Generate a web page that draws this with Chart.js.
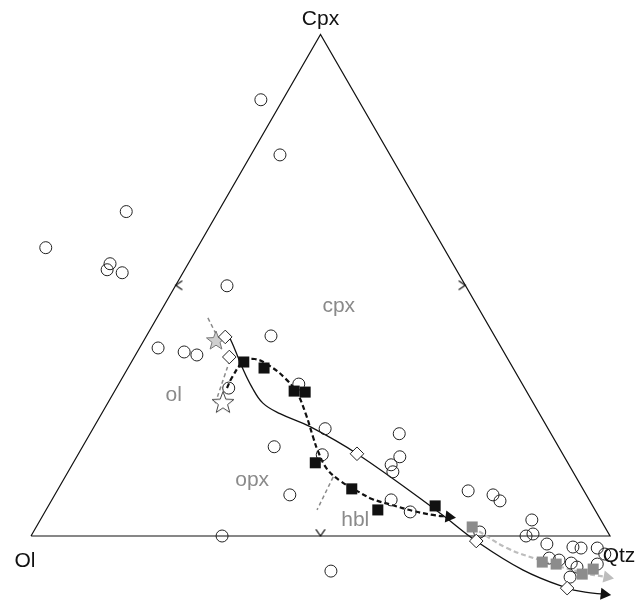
<!DOCTYPE html>
<html>
<head>
<meta charset="utf-8">
<script src="https://cdn.jsdelivr.net/npm/chart.js@4.4.1/dist/chart.umd.min.js"></script>
<style>
  html, body { margin: 0; padding: 0; background: #fff; }
</style>
</head>
<body>
<canvas id="ternary" width="638" height="600"></canvas>
<script>
// compositions are [Ol, Cpx, Qtz] in %
const corners = ['Ol', 'Cpx', 'Qtz'];

const samples = [
  [16.8, 87.0, -3.8], [19.0, 76.0, 5.0], [51.2, 64.7, -15.9], [68.7, 57.5, -26.2],
  [59.2, 54.3, -13.5], [60.3, 53.1, -13.4], [58.0, 52.5, -10.5], [41.2, 49.9, 8.9],
  [59.3, 37.5, 3.2], [55.2, 36.7, 8.1], [53.3, 36.1, 10.6], [38.6, 39.9, 21.5],
  [38.6, 30.3, 31.1], [51.1, 29.5, 19.4], [38.5, 21.4, 40.1], [26.2, 20.4, 53.4],
  [49.1, 17.8, 33.1], [28.4, 15.8, 55.8], [30.7, 14.2, 55.1], [31.1, 12.8, 56.1],
  [41.6, 16.2, 42.2], [51.2, 8.2, 40.6], [34.2, 7.2, 58.6], [32.1, 4.8, 63.1],
  [20.0, 9.0, 71.0], [16.1, 8.2, 75.7], [15.5, 7.0, 77.5], [67.0, 0.0, 33.0],
  [51.7, -7.0, 55.3], [11.9, 3.2, 84.9], [22.1, 0.8, 77.1], [14.5, 0.0, 85.5],
  [13.1, 0.4, 86.5], [11.7, -1.6, 89.9], [7.5, -2.2, 94.7], [6.2, -2.4, 96.2],
  [3.4, -2.4, 99.0], [2.7, -3.6, 100.9], [12.7, -4.4, 91.7], [11.2, -4.8, 93.6],
  [9.4, -5.4, 96.0], [8.8, -6.2, 97.4], [11.0, -8.2, 97.2], [5.0, -5.6, 100.6]
];
const hblLiquids = [
  [45.9, 34.7, 19.4], [43.0, 33.5, 23.5], [40.1, 28.9, 31.0], [38.3, 28.7, 33.0],
  [43.6, 14.6, 41.8], [39.9, 9.4, 50.7], [37.5, 5.2, 57.3], [27.2, 6.0, 66.8]
];
const grayLiquids = [
  [22.9, 1.8, 75.3], [14.3, -5.2, 90.9], [12.1, -5.6, 93.5], [8.6, -7.6, 99.0], [6.2, -6.6, 100.4]
];
const diamonds = [
  [46.6, 39.7, 13.7], [47.9, 35.7, 16.4], [35.5, 16.4, 48.1], [23.6, -1.0, 77.4], [12.6, -10.4, 97.8]
];
const startGray = [[48.6, 38.9, 12.5]];
const startWhite = [[53.6, 26.5, 19.9]];

const solidPath = [
  [45.9, 39.5, 14.6], [46.2, 37.1, 16.7], [46.7, 33.7, 19.6], [47.0, 29.7, 23.3],
  [46.7, 26.5, 26.8], [44.8, 24.4, 30.8], [40.9, 21.8, 37.3], [35.5, 16.4, 48.1],
  [27.1, 4.6, 68.3], [23.6, -1.0, 77.4], [18.4, -6.8, 88.4], [12.6, -10.4, 97.8],
  [9.9, -11.2, 101.3], [6.8, -11.6, 104.8]
];
const dashedPath = [
  [51.4, 29.5, 19.1], [49.4, 31.7, 18.9], [46.0, 34.7, 19.3], [43.7, 35.3, 21.0],
  [41.8, 33.9, 24.3], [40.4, 31.5, 28.1], [39.8, 28.5, 31.7], [40.4, 24.2, 35.4],
  [41.4, 19.8, 38.8], [42.0, 16.8, 41.2], [42.2, 13.4, 44.4], [41.1, 11.0, 47.9],
  [39.4, 9.2, 51.4], [37.4, 7.4, 55.2], [34.6, 6.2, 59.2], [31.5, 5.0, 63.5],
  [28.5, 4.2, 67.3], [25.9, 3.8, 70.3]
];
const grayPath = [
  [22.9, 1.8, 75.3], [19.0, -2.4, 83.4], [14.5, -4.8, 90.3], [8.8, -7.2, 98.4], [4.6, -8.2, 103.6]
];
const boundaries = [
  [[47.7, 43.5, 8.8], [48.0, 38.7, 13.3]],
  [[48.1, 35.1, 16.8], [55.4, 25.9, 18.7]],
  [[41.9, 11.8, 46.3], [48.0, 5.2, 46.8]]
];
const edgeMarks = [[50, 50, 0], [0, 50, 50], [50, 0, 50]];

const fieldNames = ['cpx', 'ol', 'opx', 'hbl'];
const fieldAt = [[23.9, 45.9, 30.2], [61.3, 28.1, 10.6], [56.2, 11.2, 32.6], [42.4, 3.2, 54.4]];

const H = Math.sqrt(3) / 2;
function toXY(p) {
  const s = p[0] + p[1] + p[2];
  const cpx = p[1] / s * 100, qtz = p[2] / s * 100;
  return { x: qtz + cpx / 2, y: cpx * H };
}
const pts = arr => arr.map(toXY);

function heading(path) {
  const a = toXY(path[path.length - 2]), b = toXY(path[path.length - 1]);
  return 90 + Math.atan2(-(b.y - a.y), b.x - a.x) * 180 / Math.PI;
}

function chevron(dir) {
  const c = document.createElement('canvas');
  c.width = 24; c.height = 24;
  const g = c.getContext('2d');
  const a = dir * Math.PI / 180, len = 8, spread = 35 * Math.PI / 180;
  g.strokeStyle = '#111';
  g.lineWidth = 1.2;
  g.beginPath();
  g.moveTo(12 + Math.cos(a + Math.PI - spread) * len, 12 + Math.sin(a + Math.PI - spread) * len);
  g.lineTo(12, 12);
  g.lineTo(12 + Math.cos(a + Math.PI + spread) * len, 12 + Math.sin(a + Math.PI + spread) * len);
  g.stroke();
  return c;
}

function star(fill, stroke, r) {
  const c = document.createElement('canvas');
  c.width = 28; c.height = 28;
  const g = c.getContext('2d');
  g.beginPath();
  for (let i = 0; i < 10; i++) {
    const rr = i % 2 ? r * 0.42 : r;
    const a = -Math.PI / 2 + i * Math.PI / 5;
    g.lineTo(14 + rr * Math.cos(a), 14 + rr * Math.sin(a));
  }
  g.closePath();
  g.fillStyle = fill;
  g.fill();
  g.strokeStyle = stroke;
  g.lineWidth = 1;
  g.stroke();
  return c;
}

const FONT = '"Liberation Sans", Arial, Helvetica, sans-serif';

const labelPlugin = {
  id: 'labels',
  afterDatasetsDraw(chart) {
    const { ctx, scales: { x, y } } = chart;
    const px = p => { const q = toXY(p); return [x.getPixelForValue(q.x), y.getPixelForValue(q.y)]; };
    ctx.save();
    ctx.font = '21px ' + FONT;
    ctx.textAlign = 'center';
    ctx.textBaseline = 'middle';
    ctx.fillStyle = '#111';
    const ol = px([100, 0, 0]), cp = px([0, 100, 0]), qz = px([0, 0, 100]);
    ctx.fillText(corners[0], ol[0] - 6, ol[1] + 25);
    ctx.fillText(corners[1], cp[0], cp[1] - 15);
    ctx.fillText(corners[2], qz[0] + 9, qz[1] + 20);
    ctx.fillStyle = '#8a8a8a';
    fieldNames.forEach((t, i) => {
      const p = px(fieldAt[i]);
      ctx.fillText(t, p[0], p[1]);
    });
    ctx.restore();
  }
};

const outline = pts([[100, 0, 0], [0, 100, 0], [0, 0, 100], [100, 0, 0]]);

const lineSet = (data, color, width, dash, order) => ({
  data: pts(data), showLine: true, borderColor: color, borderWidth: width,
  borderDash: dash, pointRadius: 0, tension: 0.4, fill: false, order: order
});

const datasets = [
  { data: outline, showLine: true, borderColor: '#111', borderWidth: 1.2, pointRadius: 0, tension: 0, order: 20 },
  lineSet(solidPath, '#111', 1.3, [], 15),
  lineSet(dashedPath, '#111', 2.2, [5, 3], 15),
  lineSet(grayPath, '#bdbdbd', 2.2, [5, 3], 15),
  ...boundaries.map(b => lineSet(b, '#8a8a8a', 1.5, [4, 3], 15)),
  { data: edgeMarks.map(toXY), pointStyle: [chevron(180), chevron(0), chevron(90)], pointRadius: 10, order: 14 },
  { data: pts(startGray), pointStyle: star('#cfcfcf', '#777', 10), pointRadius: 12, order: 12 },
  { data: pts(startWhite), pointStyle: star('#fff', '#444', 11.5), pointRadius: 12, order: 12 },
  { data: pts(samples), pointStyle: 'circle', pointRadius: 6, borderWidth: 1, borderColor: '#222', backgroundColor: 'rgba(0,0,0,0)', order: 10 },
  { data: pts(hblLiquids), pointStyle: 'rect', pointRadius: 7.8, borderWidth: 0, backgroundColor: '#111', order: 8 },
  { data: pts(grayLiquids), pointStyle: 'rect', pointRadius: 7.8, borderWidth: 0, backgroundColor: '#8c8c8c', order: 8 },
  { data: pts(diamonds), pointStyle: 'rectRot', pointRadius: 6.8, borderWidth: 1, borderColor: '#222', backgroundColor: '#fff', order: 6 },
  { data: [toXY(solidPath[solidPath.length - 1])], pointStyle: 'triangle', rotation: heading(solidPath), pointRadius: 7, borderWidth: 0, backgroundColor: '#111', order: 4 },
  { data: [toXY(dashedPath[dashedPath.length - 1])], pointStyle: 'triangle', rotation: heading(dashedPath), pointRadius: 7, borderWidth: 0, backgroundColor: '#111', order: 4 },
  { data: [toXY(grayPath[grayPath.length - 1])], pointStyle: 'triangle', rotation: heading(grayPath), pointRadius: 7, borderWidth: 0, backgroundColor: '#bdbdbd', order: 4 }
];
datasets.forEach(d => { d.clip = false; d.pointHoverRadius = d.pointRadius; });

new Chart(document.getElementById('ternary'), {
  type: 'scatter',
  data: { datasets: datasets },
  options: {
    responsive: false,
    animation: false,
    layout: { padding: 0, autoPadding: false },
    plugins: { legend: { display: false }, tooltip: { enabled: false } },
    scales: {
      x: { type: 'linear', display: false, min: -31 / 5.79, max: 607 / 5.79 },
      y: { type: 'linear', display: false, min: -64 / 5.79, max: 536 / 5.79 }
    }
  },
  plugins: [labelPlugin]
});
</script>
</body>
</html>
